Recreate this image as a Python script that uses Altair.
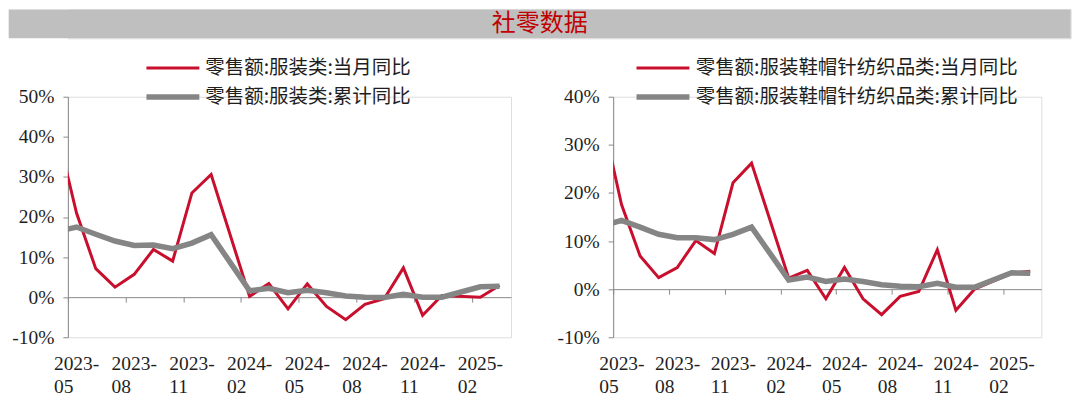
import json
import altair as alt
import pandas as pd

# ---------------- data ----------------
TITLE = "社零数据"

months = ["2023-04", "2023-05", "2023-06", "2023-07", "2023-08", "2023-09", "2023-10",
          "2023-11", "2023-12", "2024-02", "2024-03", "2024-04", "2024-05", "2024-06",
          "2024-07", "2024-08", "2024-09", "2024-10", "2024-11", "2024-12",
          "2025-02", "2025-03"]

left_series = ["零售额:服装类:当月同比", "零售额:服装类:累计同比"]
apparel_month = [41.0, 21.0, 7.1, 2.5, 5.7, 11.9, 9.0, 26.0, 30.6, 0.2, 3.4, -2.9,
                 3.3, -2.3, -5.6, -1.8, -0.4, 7.3, -4.5, 0.4, 0.0, 2.9]
apparel_cum = [16.4, 17.5, 15.7, 14.0, 12.9, 13.0, 12.1, 13.5, 15.6, 1.6, 2.2, 1.1,
               1.7, 1.1, 0.3, 0.0, -0.1, 0.7, 0.0, 0.0, 2.6, 2.7]

right_series = ["零售额:服装鞋帽针纺织品类:当月同比", "零售额:服装鞋帽针纺织品类:累计同比"]
textile_month = [35.0, 17.6, 6.9, 2.4, 4.5, 10.1, 7.4, 22.1, 26.2, 2.3, 3.9, -2.0,
                 4.5, -2.0, -5.3, -1.5, -0.5, 8.2, -4.4, 0.0, 3.3, 3.7]
textile_cum = [13.2, 14.3, 12.9, 11.4, 10.7, 10.7, 10.3, 11.4, 12.9, 1.9, 2.5, 1.6,
               2.1, 1.6, 0.9, 0.6, 0.5, 1.2, 0.4, 0.4, 3.4, 3.3]

tick_labels = ["2023-05", "2023-08", "2023-11", "2024-02", "2024-05", "2024-08",
               "2024-11", "2025-02"]
left_yticks = [-10, 0, 10, 20, 30, 40, 50]
right_yticks = [-10, 0, 10, 20, 30, 40]

# ---------------- styling ----------------
RED = "#C8102E"
GRAY = "#858585"
AXIS = "#8a8a8a"
TXT = "#1e1e1e"
SERIF = "Liberation Serif"
CJK = "Noto Sans CJK SC"

X_MAX = 23.05
PLOT_H = 241
LABEL_SHIFT = 14
LEG_FS = 19.5
label_expr = json.dumps([[t[:5], t[5:]] for t in tick_labels]) + "[round(datum.value/3)]"
tick_vals = list(range(0, 22, 3))


def month_pos(m):
    y, mo = map(int, m.split("-"))
    return (y - 2023) * 12 + (mo - 5) + 0.45


def panel(series, v_month, v_cum, ydom, yticks, width, legend_x, label_offset):
    rows = []
    for name, vals in zip(series, [v_month, v_cum]):
        for m, v in zip(months, vals):
            rows.append({"pos": month_pos(m), "value": v, "series": name})
    df = pd.DataFrame(rows)
    zero_off = -PLOT_H * (0 - ydom[0]) / (ydom[1] - ydom[0])
    leg = alt.Legend(title=None, orient="none", legendX=legend_x, legendY=-38.55,
                     symbolType="M-5,0H5", symbolSize=112.4, symbolOffset=0,
                     labelOffset=label_offset, rowPadding=7.2, padding=0, labelLimit=0,
                     labelFont=CJK, labelFontSize=LEG_FS, labelColor=TXT)
    xscale = alt.Scale(domain=[0, X_MAX], nice=False, zero=False)
    label_axis = alt.Axis(values=tick_vals, labelExpr=label_expr, orient="bottom",
                          ticks=False, tickSize=0, domain=False, translate=-LABEL_SHIFT,
                          labelPadding=17.5 + LABEL_SHIFT, labelAlign="left",
                          labelBaseline="top", labelLineHeight=23.6, labelFont=SERIF,
                          labelFontSize=19.5, labelColor=TXT, grid=False, title=None,
                          labelFlush=False, labelOverlap=False, labelBound=False)
    tick_axis = alt.Axis(values=tick_vals, orient="bottom", labels=False, offset=zero_off,
                         tickSize=5, tickColor=AXIS, domainColor=AXIS, grid=False, title=None)
    y = alt.Y("value:Q", scale=alt.Scale(domain=ydom, nice=False, zero=False),
              axis=alt.Axis(values=yticks, labelExpr="datum.value + '%'", tickSize=5,
                            tickColor=AXIS, domainColor=AXIS, labelPadding=9,
                            labelFont=SERIF, labelFontSize=19.5, labelColor=TXT,
                            grid=False, title=None, labelFlush=False))
    color = alt.Color("series:N", scale=alt.Scale(domain=series, range=[RED, GRAY]), legend=leg)
    sw = alt.StrokeWidth("series:N", scale=alt.Scale(domain=series, range=[3, 5.5]), legend=leg)
    layers = []
    for name, ax in zip(series, [label_axis, tick_axis]):
        layers.append(
            alt.Chart(df).transform_filter(alt.datum.series == name)
            .mark_line(clip=True)
            .encode(x=alt.X("pos:Q", scale=xscale, axis=ax), y=y, color=color, strokeWidth=sw)
        )
    return alt.layer(*layers).resolve_axis(x="independent").properties(width=width, height=PLOT_H)


left = panel(left_series, apparel_month, apparel_cum, [-10, 50], left_yticks, 444, 95.45, 22.75)
right = panel(right_series, textile_month, textile_cum, [-10, 40], right_yticks, 429, 40.15, 23.05)

BAND_W = 1004.7
band_df = pd.DataFrame({"title": [TITLE]})
band = alt.layer(
    alt.Chart(band_df).mark_rect(color="#BFBFBF").encode(
        x=alt.value(-59.3), x2=alt.value(BAND_W), y=alt.value(0), y2=alt.value(29)),
    alt.Chart(band_df).mark_text(color="#C00000", font=CJK, fontSize=24,
                                 baseline="middle", align="center").encode(
        x=alt.value(472.7), y=alt.value(14.5), text="title:N"),
).properties(width=BAND_W, height=29)

chart = alt.vconcat(
    band,
    alt.hconcat(left, right, spacing=102.3, bounds="flush").resolve_scale(
        color="independent", strokeWidth="independent"),
    spacing=58.5, bounds="flush",
).properties(padding=0).configure_view(stroke=None).configure(background="white")

chart.save("out.html", embed_options={"renderer": "svg", "actions": False})
